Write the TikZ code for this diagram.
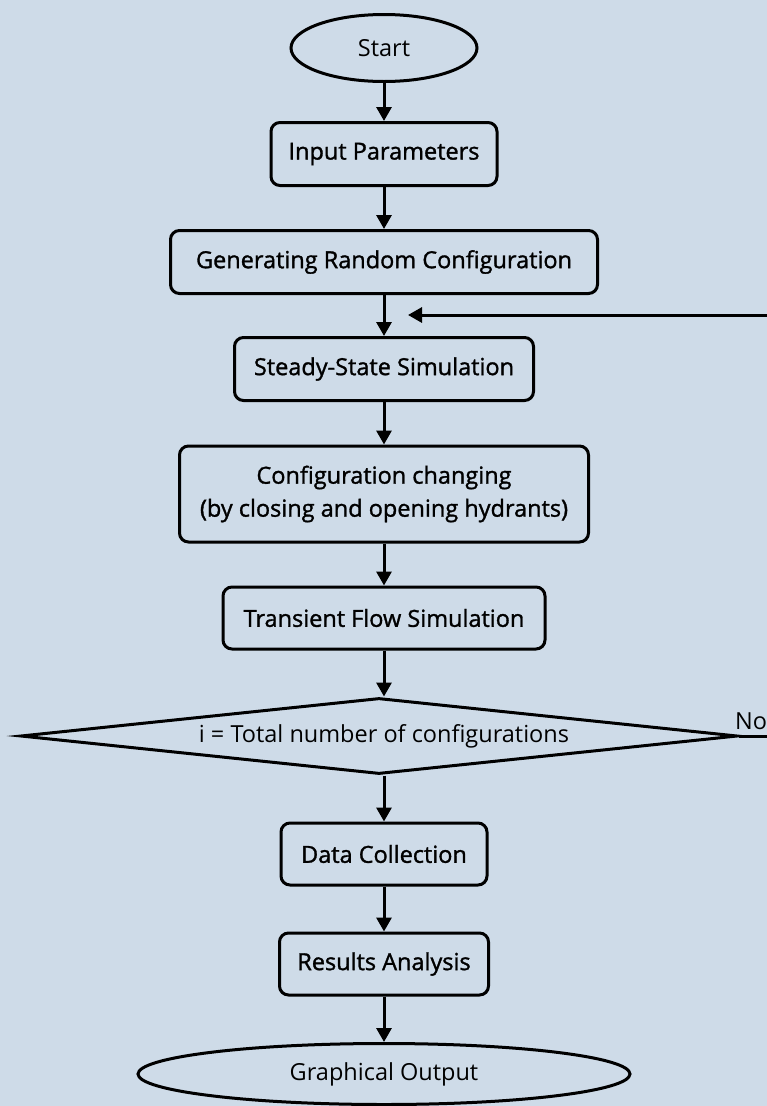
\documentclass[tikz,border=0pt]{standalone}
\usepackage{fontspec}
\setmainfont{Open Sans}
\newfontfamily\stepfont{Open Sans}[FakeBold=1.3]
\usetikzlibrary{shapes.geometric,arrows.meta}
\definecolor{panel}{RGB}{206,219,232}
\begin{document}
\begin{tikzpicture}[x=1pt,y=-1pt,
  every node/.style={font=\fontsize{23.5pt}{33pt}\selectfont, inner sep=0pt, line width=3pt},
  procbox/.style={draw, rounded corners=9pt, align=center, font=\stepfont\fontsize{23.5pt}{33pt}\selectfont},
  terminal/.style={draw, ellipse},
  decision/.style={draw, diamond, aspect=9.55},
  flow/.style={line width=3pt, -{Triangle[width=15pt,length=14pt]}},
  plain/.style={line width=3pt}]
  % background panel
  \fill[panel] (0,0) rectangle (767,1106);
  \useasboundingbox (0,0) rectangle (767,1106);

  % main chain
  \node[terminal, minimum width=186pt, minimum height=67pt] (start) at (384,48) {Start};
  \node[procbox, minimum width=226pt, minimum height=63pt] (input) at (384,154) {Input Parameters};
  \node[procbox, minimum width=427pt, minimum height=63pt] (gen) at (384,262) {Generating Random Configuration};
  \node[procbox, minimum width=299pt, minimum height=63pt] (steady) at (384,369) {Steady-State Simulation};
  \node[procbox, minimum width=409pt, minimum height=96pt] (change) at (384,494) {Configuration changing\\(by closing and opening hydrants)};
  \node[procbox, minimum width=322pt, minimum height=62pt] (trans) at (384,618) {Transient Flow Simulation};
  \node[decision, minimum width=717pt, minimum height=76pt] (check) at (379,736) {\hspace*{10pt}i = Total number of configurations};
  \node[procbox, minimum width=206pt, minimum height=62pt] (data) at (384,854) {Data Collection};
  \node[procbox, minimum width=209pt, minimum height=62pt] (results) at (384,964) {Results Analysis};
  \node[terminal, minimum width=492pt, minimum height=61pt] (output) at (384,1074) {Graphical Output};

  \draw[flow] (start) -- (input);
  \draw[flow] (input) -- (gen);
  \draw[flow] (gen) -- (steady);
  \draw[flow] (steady) -- (change);
  \draw[flow] (change) -- (trans);
  \draw[flow] (trans.south) -- (trans.south |- check.north);
  \draw[flow] (trans.south |- check.south) -- (data.north);
  \draw[flow] (data) -- (results);
  \draw[flow] (results) -- (output);

  % loop back for the next configuration
  \coordinate (noend) at (767,736);
  \coordinate (backin) at (767,315);
  \coordinate (backtip) at (408,315);
  \draw[plain] (check.east) -- (noend);
  \node[anchor=south] (no) at (751,731) {No};
  \draw[flow] (backin) -- (backtip);
\end{tikzpicture}
\end{document}
